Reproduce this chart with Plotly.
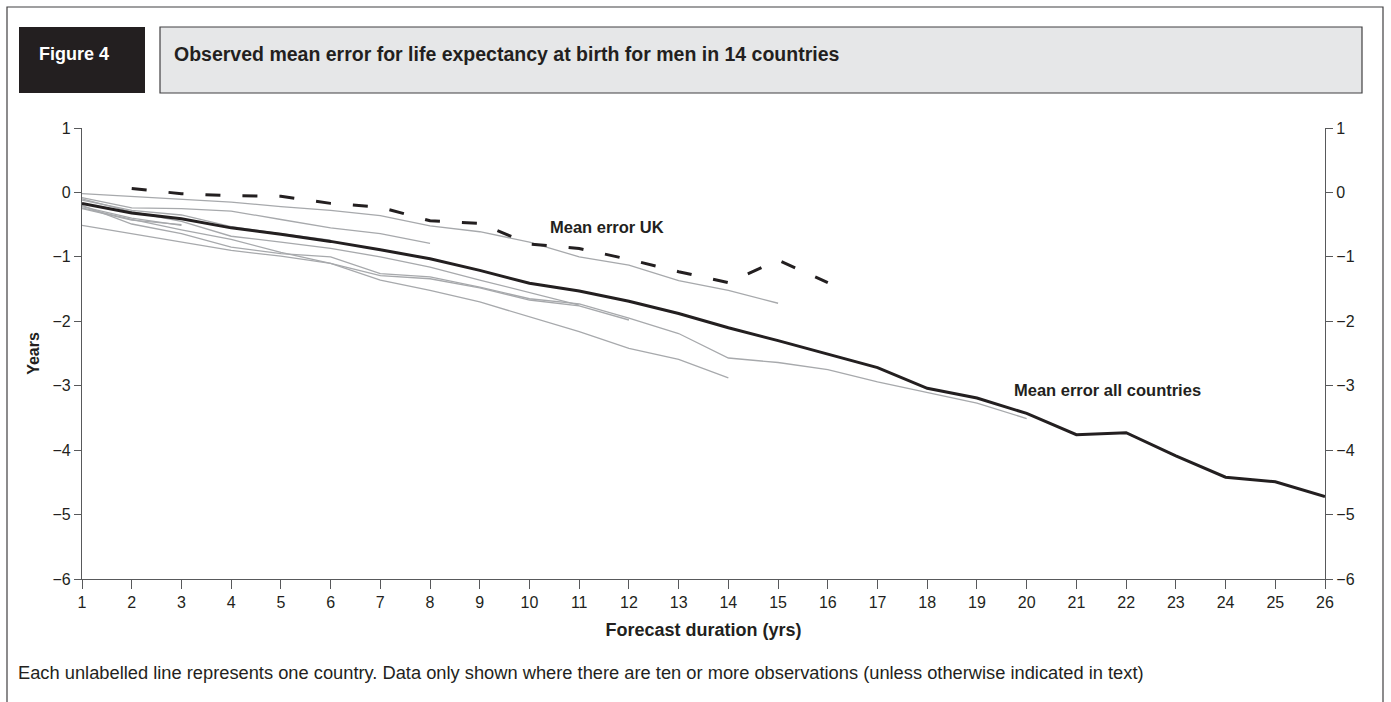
import plotly.graph_objects as go

# ---------------- data ----------------
years = list(range(1, 27))

mean_all = [-0.17, -0.32, -0.41, -0.55, -0.65, -0.76, -0.89, -1.03, -1.21, -1.41,
            -1.53, -1.69, -1.88, -2.10, -2.30, -2.51, -2.72, -3.04, -3.19, -3.43,
            -3.76, -3.73, -4.09, -4.42, -4.49, -4.72]

uk_years = list(range(2, 17))
uk_error = [0.06, -0.02, -0.05, -0.06, -0.17, -0.23, -0.44, -0.48, -0.80, -0.87,
            -1.04, -1.23, -1.40, -1.05, -1.40]

country_a = [-0.02, -0.06, -0.10, -0.15, -0.22, -0.28, -0.36, -0.52, -0.61, -0.77,
             -1.00, -1.13, -1.37, -1.52, -1.72]
country_b = [-0.08, -0.24, -0.25, -0.29, -0.42, -0.55, -0.64, -0.79]
country_c = [-0.12, -0.28, -0.35, -0.53, -0.64, -0.74]
country_d = [-0.22, -0.40, -0.51]
country_e = [-0.25, -0.43, -0.50]
country_f = [-0.10, -0.30, -0.45, -0.68, -0.77, -0.87, -1.00, -1.16, -1.36, -1.55, -1.75]
country_g = [-0.20, -0.49, -0.64, -0.85, -0.95, -1.00, -1.26, -1.31, -1.47, -1.65,
             -1.73, -1.95, -2.19, -2.57, -2.64, -2.75, -2.94, -3.10, -3.27, -3.51]
country_h = [-0.24, -0.42, -0.58, -0.73, -0.93, -1.10, -1.29, -1.34, -1.48, -1.67,
             -1.76, -1.98]
country_i = [-0.51, -0.64, -0.77, -0.90, -0.99, -1.10, -1.36, -1.52, -1.70, -1.93,
             -2.16, -2.42, -2.59, -2.88]

countries = [country_a, country_b, country_c, country_d, country_e,
             country_f, country_g, country_h, country_i]

x_ticks = list(range(1, 27))
y_ticks = [1, 0, -1, -2, -3, -4, -5, -6]

title_text = "Observed mean error for life expectancy at birth for men in 14 countries"
fig_label = "Figure 4"
footnote = ("Each unlabelled line represents one country. Data only shown where there are ten "
            "or more observations (unless otherwise indicated in text)")

# ---------------- figure ----------------
W, H = 1391, 702
L, R, T, B = 82, 1325, 128, 579  # plot area in pixels

FONT = "Liberation Sans, Arial, sans-serif"
TXT = "#231f20"
GRAY = "#a7a9ac"


def px(x):
    return (x - L) / (R - L)


def py(y):
    return (B - y) / (B - T)


fig = go.Figure()

for c in countries:
    fig.add_trace(go.Scatter(x=years[:len(c)], y=c, mode="lines",
                             line=dict(color=GRAY, width=1.3),
                             hoverinfo="skip", showlegend=False))

fig.add_trace(go.Scatter(x=uk_years, y=uk_error, mode="lines",
                         line=dict(color=TXT, width=3, dash="15px,22px"),
                         showlegend=False))

fig.add_trace(go.Scatter(x=years, y=mean_all, mode="lines",
                         line=dict(color=TXT, width=3),
                         showlegend=False))

# invisible trace to activate the right axis
fig.add_trace(go.Scatter(x=years, y=mean_all, yaxis="y2", mode="lines",
                         line=dict(width=0), opacity=0, hoverinfo="skip",
                         showlegend=False))

axis_common = dict(showgrid=False, zeroline=False, showline=True,
                   linecolor="#58595b", linewidth=1.2, ticks="outside",
                   tickcolor="#58595b", tickwidth=1.2,
                   tickfont=dict(family=FONT, size=16, color=TXT))

fig.update_layout(
    width=W, height=H,
    margin=dict(l=L, r=W - R, t=T, b=H - B),
    paper_bgcolor="white", plot_bgcolor="white",
    font=dict(family=FONT, color=TXT),
    xaxis=dict(range=[1, 26], tickvals=x_ticks, ticklen=9, **axis_common,
               title=dict(text="<b>Forecast duration (yrs)</b>",
                          font=dict(family=FONT, size=18, color=TXT), standoff=13)),
    yaxis=dict(range=[-6, 1], tickvals=y_ticks, ticklen=7, **axis_common,
               title=dict(text="<b>Years</b>",
                          font=dict(family=FONT, size=16, color=TXT), standoff=8)),
    yaxis2=dict(range=[-6, 1], tickvals=y_ticks, ticklen=7, overlaying="y",
                side="right", **axis_common),
)

# ---- decorations (frame, header boxes) ----
shapes = [
    dict(type="rect", xref="paper", yref="paper", x0=px(7), x1=px(1383),
         y0=py(712), y1=py(7), line=dict(color="#414042", width=1.2),
         fillcolor="rgba(0,0,0,0)", layer="below"),
    dict(type="rect", xref="paper", yref="paper", x0=px(19), x1=px(145),
         y0=py(93), y1=py(27), line=dict(width=0), fillcolor="#231f20"),
    dict(type="rect", xref="paper", yref="paper", x0=px(160), x1=px(1362),
         y0=py(93), y1=py(27), line=dict(color="#414042", width=1.2),
         fillcolor="#e6e7e8"),
]
fig.update_layout(shapes=shapes)

annotations = [
    dict(text=f"<b>{fig_label}</b>", xref="paper", yref="paper",
         x=px(37), y=py(54), xanchor="left", yanchor="middle", showarrow=False,
         font=dict(family=FONT, size=18, color="white")),
    dict(text=f"<b>{title_text}</b>", xref="paper", yref="paper",
         x=px(172), y=py(54), xanchor="left", yanchor="middle", showarrow=False,
         font=dict(family=FONT, size=19.5, color=TXT)),
    dict(text="<b>Mean error UK</b>", xref="x", yref="y", x=11.55, y=-0.54,
         xanchor="center", yanchor="middle", showarrow=False,
         font=dict(family=FONT, size=16.5, color=TXT)),
    dict(text="<b>Mean error all countries</b>", xref="x", yref="y", x=21.62, y=-3.06,
         xanchor="center", yanchor="middle", showarrow=False,
         font=dict(family=FONT, size=16.5, color=TXT)),
    dict(text=footnote, xref="paper", yref="paper", x=px(16), y=py(672),
         xanchor="left", yanchor="middle", showarrow=False,
         font=dict(family=FONT, size=18.3, color=TXT)),
]
fig.update_layout(annotations=annotations)

fig.write_html("out.html",
               config={"displayModeBar": False},
               post_script="document.body.style.margin='0px';document.body.style.overflow='hidden';")
